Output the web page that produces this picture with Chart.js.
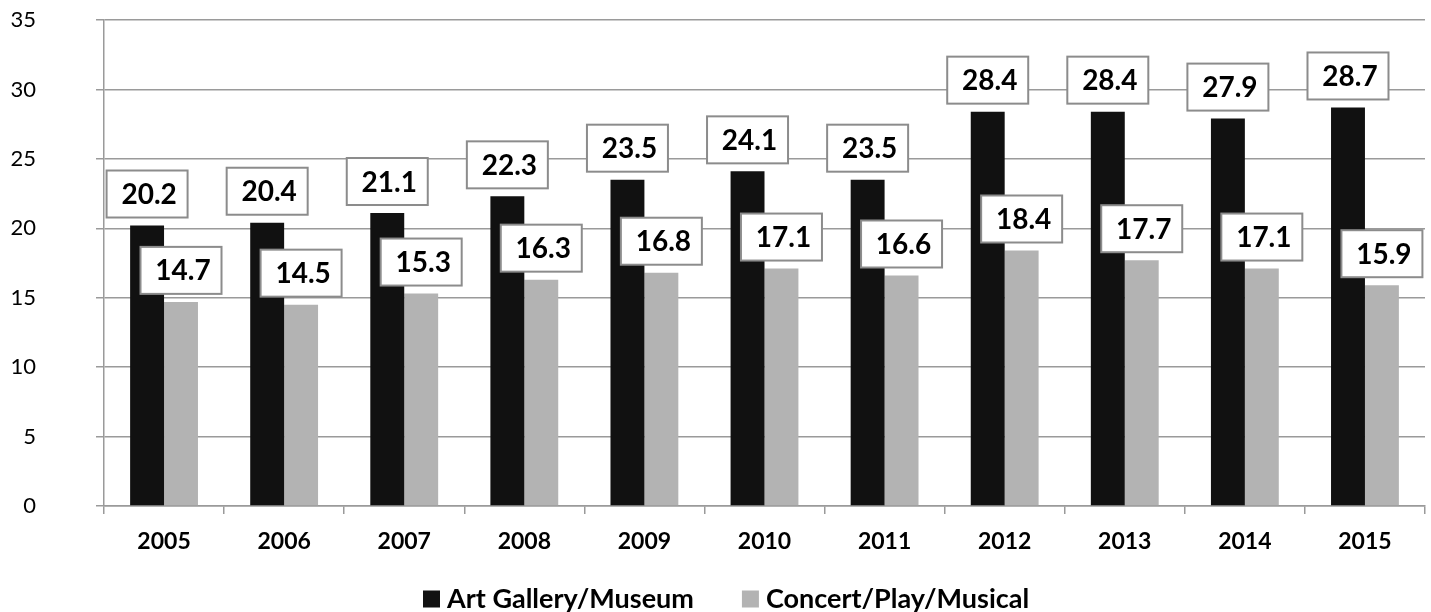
<!DOCTYPE html>
<html>
<head>
<meta charset="utf-8">
<script src="https://cdn.jsdelivr.net/npm/chart.js@4"></script>
<style>
  html, body { margin: 0; padding: 0; background: #fff; }
  #wrap { width: 1431px; height: 612px; }
</style>
</head>
<body>
<div id="wrap"><canvas id="barCanvas" width="1431" height="612"></canvas></div>
<script>
// years on the x axis
var years = ["2005", "2006", "2007", "2008", "2009", "2010", "2011", "2012", "2013", "2014", "2015"];
// Art Gallery/Museum
var artGallery = [20.2, 20.4, 21.1, 22.3, 23.5, 24.1, 23.5, 28.4, 28.4, 27.9, 28.7];
// Concert/Play/Musical
var concertPlay = [14.7, 14.5, 15.3, 16.3, 16.8, 17.1, 16.6, 18.4, 17.7, 17.1, 15.9];
var yTicks = [0, 5, 10, 15, 20, 25, 30, 35];

var FONT = "Lato, 'Open Sans', sans-serif";

// boxed value labels above each bar
var boxLabels = {
	id: 'boxLabels',
	afterDatasetsDraw: function(chart) {
		var ctx = chart.ctx;
		ctx.save();
		ctx.font = "bold 28px " + FONT;
		ctx.textAlign = "center";
		ctx.textBaseline = "middle";
		chart.data.datasets.forEach(function(ds, i) {
			var meta = chart.getDatasetMeta(i);
			meta.data.forEach(function(bar, j) {
				var w = 81, h = 47;
				var x = bar.x - w / 2;
				var y = bar.y - 8 - h;
				ctx.fillStyle = "#ffffff";
				ctx.fillRect(x, y, w, h);
				ctx.strokeStyle = "#8c8c8c";
				ctx.lineWidth = 2;
				ctx.strokeRect(x, y, w, h);
				ctx.fillStyle = "#000000";
				ctx.fillText(ds.data[j].toFixed(1), bar.x + 2, y + h / 2 + 1);
			});
		});
		ctx.restore();
	}
};

// legend drawn by hand under the axis (square + bold name)
var bottomLegend = {
	id: 'bottomLegend',
	afterDraw: function(chart) {
		var ctx = chart.ctx;
		ctx.save();
		ctx.font = "bold 27px " + FONT;
		ctx.textBaseline = "middle";
		ctx.textAlign = "left";
		var sq = 17, gapText = 7, gapItem = 48;
		var x = 423;
		var yc = 599;
		chart.data.datasets.forEach(function(ds) {
			ctx.fillStyle = ds.backgroundColor;
			ctx.fillRect(x, yc - sq / 2, sq, sq);
			x += sq + gapText;
			ctx.fillStyle = "#000";
			ctx.fillText(ds.label, x, yc);
			x += ctx.measureText(ds.label).width + gapItem;
		});
		ctx.restore();
	}
};

var ctx = document.getElementById("barCanvas").getContext("2d");

new Chart(ctx, {
	type: 'bar',
	data: {
		labels: years,
		datasets: [
			{
				label: "Art Gallery/Museum",
				data: artGallery,
				backgroundColor: "#111111",
				barPercentage: 1.0,
				categoryPercentage: 0.565
			},
			{
				label: "Concert/Play/Musical",
				data: concertPlay,
				backgroundColor: "#b3b3b3",
				barPercentage: 1.0,
				categoryPercentage: 0.565
			}
		]
	},
	options: {
		responsive: false,
		animation: false,
		layout: { padding: { top: 20, right: 6, left: 0, bottom: 51 } },
		plugins: {
			tooltip: { enabled: false },
			legend: { display: false }
		},
		scales: {
			x: {
				grid: { display: true, drawOnChartArea: false, color: "#9a9a9a", lineWidth: 1.5, tickLength: 8, offset: true },
				border: { color: "#9a9a9a", width: 1.5 },
				ticks: { color: "#000", padding: 14, font: { family: FONT, size: 23, weight: 'bold' } },
				afterFit: function(scale) { scale.height = 55; }
			},
			y: {
				min: 0,
				max: 35,
				afterBuildTicks: function(scale) {
					scale.ticks = yTicks.map(function(v) { return { value: v }; });
				},
				grid: { color: "#9a9a9a", lineWidth: 1.5, tickLength: 8 },
				border: { color: "#9a9a9a", width: 1.5 },
				ticks: { color: "#000", padding: 60, font: { family: FONT, size: 22 } },
				afterFit: function(scale) {
					scale.width = 104;
					scale.paddingTop = 0;
					scale.paddingBottom = 0;
				}
			}
		}
	},
	plugins: [boxLabels, bottomLegend]
});
</script>
</body>
</html>
